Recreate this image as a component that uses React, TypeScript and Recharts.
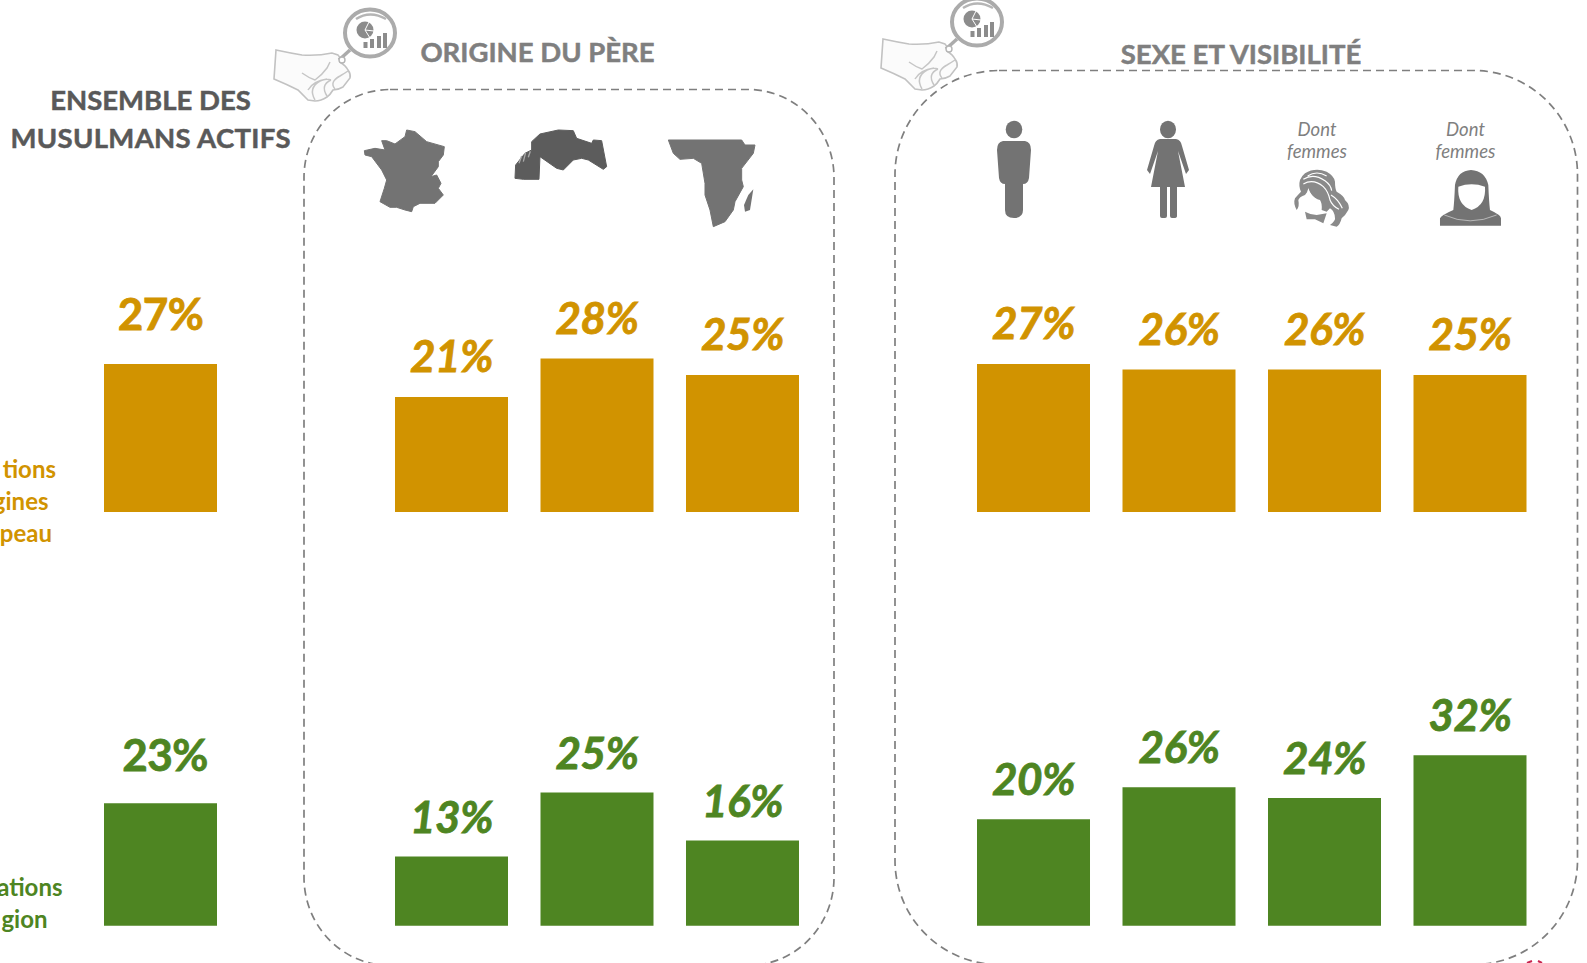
import React from "react";
import { BarChart, Bar, XAxis, YAxis, LabelList } from "recharts";

// ---- data ----
const overallCategories = ["Ensemble"];
const fatherCategories = ["France", "Maghreb", "Afrique"];
const sexCategories = ["Hommes", "Femmes", "Femmes sans voile", "Femmes voilées"];

const originOverall = [27];
const originByFather = [21, 28, 25];
const originBySex = [27, 26, 26, 25];

const religionOverall = [23];
const religionByFather = [13, 25, 16];
const religionBySex = [20, 26, 24, 32];

const ORANGE = "#D19300";
const GREEN = "#4E8522";
const GREY = "#7F7F7F";
const FONT = "Lato, 'Open Sans', sans-serif";

const toRows = (cats: string[], vals: number[]) => cats.map((c, i) => ({ name: c, value: vals[i] }));

const STEP = 145.5;
const BAR = 113;

function makeLabel(color: string, italic: boolean, above: number, shift: number) {
  return (p: any) => (
    <text
      x={p.x + p.width / 2 + shift}
      y={p.y - above}
      textAnchor="middle"
      dominantBaseline="central"
      fontFamily={FONT}
      fontWeight={700}
      fontStyle={italic ? "italic" : "normal"}
      fontSize={44}
      letterSpacing={-0.5}
      fill={color}
      stroke={color}
      strokeWidth={0.8}
    >
      {p.value}%
    </text>
  );
}

function Panel({ left, base, perUnit, cats, vals, color, italic, above, shift = 0 }: any) {
  const maxV = 45;
  const h = maxV * perUnit;
  return (
    <div style={{ position: "absolute", left, top: base - h, width: cats.length * STEP, height: h }}>
      <BarChart
        width={cats.length * STEP}
        height={h}
        data={toRows(cats, vals)}
        margin={{ top: 0, right: 0, bottom: 0, left: 0 }}
        barCategoryGap={(STEP - BAR) / 2}
        style={{ overflow: "visible" }}
      >
        <XAxis dataKey="name" hide />
        <YAxis hide domain={[0, maxV]} />
        <Bar dataKey="value" fill={color} barSize={BAR} isAnimationActive={false}>
          <LabelList dataKey="value" content={makeLabel(color, italic, above, shift)} />
        </Bar>
      </BarChart>
    </div>
  );
}

function Hand() {
  return (
    <g>
      <path
        d="M276 50 Q290 53 302 55 Q318 56 332 53 L338 55 Q341 58 340 62 Q346 66 348 70 Q351 74 350 78 L343 87 Q338 90 333 90 Q330 95 327 97 Q321 101 315 101 L308 100 Q303 95 298 90 Q286 84 274 79 Z"
        fill="#FBFBFB"
        stroke="#C2C2C2"
        strokeWidth={1.6}
      />
      <path
        d="M302 73 Q309 78 315 80 Q322 75 327 68 L330 62 M308 90 Q313 81 327 79 M315 100 Q308 88 320 81 Q326 78 331 80 M327 96 Q320 85 331 80 M335 89 Q329 82 340 76 Q345 73 348 71"
        fill="none"
        stroke="#C6C6C6"
        strokeWidth={1.5}
      />
      <path d="M339 60 L350 50" stroke="#ABABAB" strokeWidth={3.5} />
      <circle cx={342} cy={60} r={3} fill="#fff" stroke="#B5B5B5" strokeWidth={1.4} />
      <ellipse cx={370} cy={33} rx={25} ry={23.5} fill="#fff" stroke="#ABABAB" strokeWidth={4} />
      <path d="M356 19 Q370 10 386 19" fill="none" stroke="#B5B5B5" strokeWidth={2.5} />
      <circle cx={365} cy={30} r={8.5} fill="#8C8C8C" />
      <path d="M365 30 L374 31 M365 30 L369 22 M365 30 L370 38" stroke="#fff" strokeWidth={1} />
      <path d="M365.5 48 V42 M372 48 V39 M379 48 V36 M385 48 V33" stroke="#8C8C8C" strokeWidth={4} />
    </g>
  );
}

function Decor() {
  return (
    <svg width={1587} height={963} style={{ position: "absolute", left: 0, top: 0 }}>
      {/* dashed frames */}
      <rect x={304} y={89.5} width={530} height={876} rx={86} ry={88} fill="none" stroke={GREY} strokeWidth={1.7} strokeDasharray="8 5" />
      <rect x={895} y={70.5} width={682.5} height={894} rx={104} ry={104} fill="none" stroke={GREY} strokeWidth={1.7} strokeDasharray="8 5" />

      <Hand />
      <g transform="translate(607,-11)"><Hand /></g>

      {/* titles */}
      <g fontFamily={FONT} fontWeight={700} fontSize={27.5} textAnchor="middle" dominantBaseline="central">
        <text x={150.5} y={99} fill="#595959" stroke="#595959" strokeWidth={0.5}>ENSEMBLE DES</text>
        <text x={150.5} y={137} fill="#595959" stroke="#595959" strokeWidth={0.5} textLength={280}>MUSULMANS ACTIFS</text>
        <text x={537.5} y={51} fill={GREY} stroke={GREY} strokeWidth={0.5}>ORIGINE DU PÈRE</text>
        <text x={1241} y={53} fill={GREY} stroke={GREY} strokeWidth={0.5}>SEXE ET VISIBILITÉ</text>
      </g>

      {/* clipped row captions */}
      <g fontFamily={FONT} fontWeight={700} fontSize={24} textAnchor="end" dominantBaseline="central">
        <text x={56} y={468} fill={ORANGE}>tions</text>
        <text x={48.5} y={500} fill={ORANGE}>gines</text>
        <text x={52} y={532} fill={ORANGE}>peau</text>
        <text x={62.5} y={886} fill={GREEN}>ations</text>
        <text x={47.5} y={918} fill={GREEN}>gion</text>
      </g>

      {/* maps, drawn in zoomed-crop units */}
      <g transform="translate(355,120) scale(0.3333)">
        <path fill="#737373" stroke="#737373" strokeWidth={3} strokeLinejoin="round" d="M155 30 L180 35 L215 65 L268 80 L265 105 L250 125 L250 140 L228 170 L245 165 L258 190 L250 205 L265 225 L240 250 L195 250 L175 260 L170 275 L150 270 L125 262 L105 262 L75 245 L88 205 L95 180 L80 150 L50 110 L30 105 L28 92 L60 85 L90 90 L80 62 L95 62 L120 72 L150 50 Z" />
        <path fill="#5C5C5C" stroke="#5C5C5C" strokeWidth={3} strokeLinejoin="round" d="M480 175 L482 135 L510 100 L530 90 L530 65 L555 42 L610 30 L655 32 L665 55 L710 70 L715 60 L740 62 L755 140 L745 148 L700 120 L680 115 L655 120 L625 150 L605 145 L555 110 L552 178 L505 178 Z" />
        <path stroke="#A8A8A8" strokeWidth={4} fill="none" d="M492 130 L500 108 M505 125 L512 98 M520 112 L526 94" />
      </g>
      <g transform="translate(660,130) scale(0.3333)">
        <path fill="#737373" stroke="#737373" strokeWidth={3} strokeLinejoin="round" d="M25 30 L245 30 L255 45 L285 45 L280 70 L245 115 L245 150 L250 170 L225 215 L220 240 L195 275 L160 290 L150 240 L135 195 L135 160 L125 100 L100 85 L60 88 L40 70 Z" />
        <path fill="#737373" d="M280 178 L270 240 L255 245 L252 225 L265 195 Z" />
      </g>

      {/* man */}
      <g fill="#737373">
        <ellipse cx={1014} cy={129.5} rx={8.3} ry={8.7} />
        <path d="M1003 141 H1025 Q1031 142 1031 150 L1029 178 Q1028 184 1023 184 V210 Q1023 218 1014 218 Q1005 218 1005 210 V184 Q1000 184 999 178 L997 150 Q997 142 1003 141 Z" />
      </g>
      {/* woman */}
      <g fill="#737373">
        <ellipse cx={1168} cy={129.5} rx={8} ry={8.7} />
        <path d="M1160 139 H1176 Q1181 140 1182 146 L1189 170 L1186 174 L1178 151 L1185 187 H1177 V216 Q1177 218 1174 218 H1172 Q1170 218 1170 216 V187 H1167 V216 Q1167 218 1165 218 H1162 Q1160 218 1160 216 V187 H1151 L1158 151 L1150 174 L1147 170 L1154 146 Q1155 140 1160 139 Z" />
      </g>
      {/* woman with hair */}
      <g transform="translate(1285,160) scale(0.3333)">
        <path fill="#8A8A8A" d="M60 40 Q90 22 125 35 Q148 48 150 65 Q150 85 155 95 Q178 108 180 120 Q196 135 190 150 Q182 165 170 175 Q165 195 155 200 L135 195 Q152 182 150 175 Q150 155 135 145 L125 155 L110 150 Q112 130 105 120 Q92 118 85 110 Q72 98 70 85 Q68 98 60 105 Q44 110 40 120 Q44 140 35 150 Q24 130 30 115 Q38 105 48 95 Q40 78 45 60 Q50 48 60 40 Z" />
        <path fill="none" stroke="#fff" strokeWidth={3.5} d="M55 58 Q85 38 120 62 Q138 75 140 92 M55 72 Q85 55 115 80 Q130 95 135 120 Q142 138 162 148 M68 48 Q95 30 125 48 M138 105 Q160 118 172 145" />
        <path fill="#fff" d="M70 85 Q78 110 98 118 Q92 128 80 122 Q62 112 70 85 Z" />
        <path fill="#8A8A8A" d="M60 155 Q78 165 95 165 L125 160 L115 190 L90 178 L65 178 Z" />
      </g>
      {/* veiled woman */}
      <g transform="translate(1285,160) scale(0.3333)">
        <path fill="#737373" d="M558 30 Q600 32 610 75 Q612 125 615 150 Q648 165 648 175 V197 H465 V175 Q470 165 505 150 Q508 125 510 75 Q518 32 558 30 Z" />
        <path fill="#fff" d="M520 80 Q560 65 600 80 Q604 135 560 150 Q516 135 520 80 Z" />
        <path fill="none" stroke="#fff" strokeWidth={1.5} d="M478 165 Q555 200 635 165" />
      </g>

      {/* caption italics */}
      <g fontFamily={FONT} fontStyle="italic" fontSize={18.5} fill={GREY} textAnchor="middle" dominantBaseline="central">
        <text x={1317} y={128.5}>Dont</text>
        <text x={1317} y={150.5}>femmes</text>
        <text x={1465.5} y={128.5}>Dont</text>
        <text x={1465.5} y={150.5}>femmes</text>
      </g>

      <path d="M1527 963 L1532 961 M1538 961 L1542 963" stroke="#C8254F" strokeWidth={2} />
    </svg>
  );
}

export default function App() {
  const topBase = 512;
  const botBase = 926;
  const topUnit = 5.5;
  const botUnit = 5.33;
  return (
    <div style={{ position: "absolute", left: 0, top: 0, width: 1587, height: 963, overflow: "hidden", background: "#fff" }}>
      <Decor />
      <Panel left={87.75} base={topBase} perUnit={topUnit} cats={overallCategories} vals={originOverall} color={ORANGE} italic={false} above={51} />
      <Panel left={378.75} base={topBase} perUnit={topUnit} cats={fatherCategories} vals={originByFather} color={ORANGE} italic above={42} />
      <Panel left={960.75} base={topBase} perUnit={topUnit} cats={sexCategories} vals={originBySex} color={ORANGE} italic above={42} />
      <Panel left={87.75} base={botBase} perUnit={botUnit} cats={overallCategories} vals={religionOverall} color={GREEN} italic={false} above={49} shift={4.5} />
      <Panel left={378.75} base={botBase} perUnit={botUnit} cats={fatherCategories} vals={religionByFather} color={GREEN} italic above={41} />
      <Panel left={960.75} base={botBase} perUnit={botUnit} cats={sexCategories} vals={religionBySex} color={GREEN} italic above={41} />
    </div>
  );
}
